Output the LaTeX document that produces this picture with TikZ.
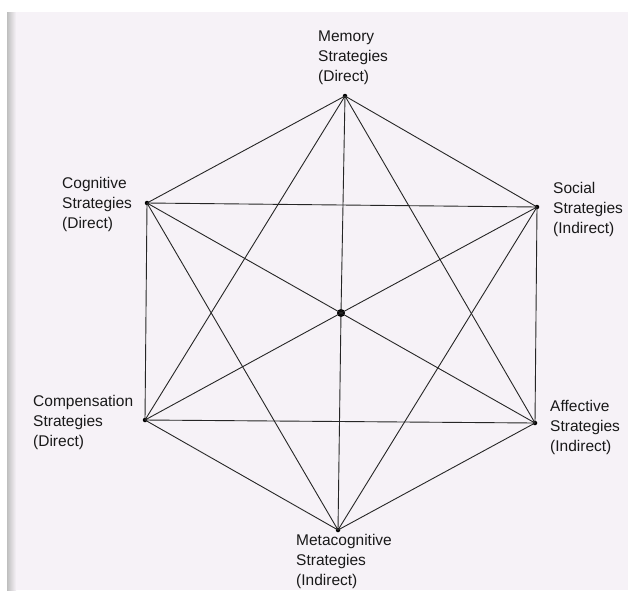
\documentclass[tikz,border=0pt]{standalone}
\usepackage{fontspec}
\setmainfont{Liberation Sans}
\begin{document}
\begin{tikzpicture}[x=1pt,y=-1pt,
  edge/.style={draw=black!85,line width=0.9pt},
  vdot/.style={circle,fill=black,inner sep=0pt,minimum size=4.5pt},
  cdot/.style={circle,fill=black,inner sep=0pt,minimum size=8pt},
  lab/.style={anchor=base west,align=left,inner sep=0pt,font=\fontsize{15.5}{20}\selectfont,text=black!90}]
\useasboundingbox (0,0) rectangle (628,590);
\fill[white] (0,0) rectangle (628,590);
\fill[fill={rgb,255:red,246;green,242;blue,247}] (7,12) rectangle (628,590);
\shade[left color=black!25,right color={rgb,255:red,246;green,242;blue,247}] (7,12) rectangle (16,590);
% vertices
\node[vdot] (mem) at (345,96) {};
\node[vdot] (cog) at (147,203) {};
\node[vdot] (soc) at (537,207) {};
\node[vdot] (com) at (145,420) {};
\node[vdot] (aff) at (535,423) {};
\node[vdot] (met) at (338,530) {};
\node[cdot] (ctr) at (341,313) {};
% complete graph
\foreach \a/\b in {mem/cog,mem/soc,mem/com,mem/aff,
                   cog/soc,cog/com,cog/met,
                   soc/aff,soc/met,
                   com/aff,com/met,aff/met}
  \draw[edge] (\a.center) -- (\b.center);
\draw[edge] (mem.center) -- (ctr.center) -- (met.center);
\draw[edge] (cog.center) -- (ctr.center) -- (aff.center);
\draw[edge] (soc.center) -- (ctr.center) -- (com.center);
% labels (anchor = baseline of last line)
\node[lab] (lmem) at (318,81) {Memory\\Strategies\\(Direct)};
\node[lab] (lcog) at (62,228) {Cognitive\\Strategies\\(Direct)};
\node[lab] (lsoc) at (553,233) {Social\\Strategies\\(Indirect)};
\node[lab] (lcom) at (33,446) {Compensation\\Strategies\\(Direct)};
\node[lab] (laff) at (550,451) {Affective\\Strategies\\(Indirect)};
\node[lab] (lmet) at (296,585) {Metacognitive\\Strategies\\(Indirect)};
\end{tikzpicture}
\end{document}
